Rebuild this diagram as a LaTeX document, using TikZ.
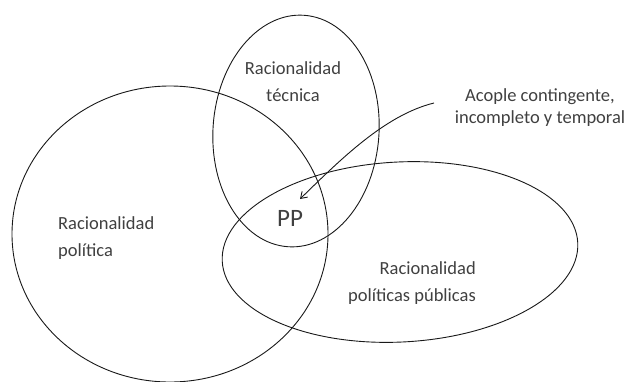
\documentclass[tikz,border=0pt]{standalone}
\usepackage{fontspec}
\setmainfont{Carlito}
\usetikzlibrary{arrows.meta}
\begin{document}
\begin{tikzpicture}[x=1pt,y=-1pt,
  setline/.style={draw=black!90, line width=0.9pt},
  lbl/.style={text=black!75, font=\fontsize{18.5}{27}\selectfont, inner sep=0pt},
  arr/.style={draw=black!90, line width=0.9pt, -{Straight Barb[length=6pt,width=8pt]}}]
\useasboundingbox (0,0) rectangle (640,381);
% sets
\draw[setline] (170,234) ellipse [x radius=158, y radius=148];
\draw[setline, rotate around={-4:(296,131)}] (296,131) ellipse [x radius=83, y radius=116];
\draw[setline, rotate around={3:(400,252)}] (400,252) ellipse [x radius=178, y radius=90];
% labels
\node[lbl, align=center] (tec) at (293,82) {Racionalidad\\técnica};
\node[lbl, align=left, anchor=west] (pol) at (58,238) {Racionalidad\\política};
\node[lbl, align=right, anchor=east] (pub) at (476,283) {Racionalidad\\políticas públicas};
\node[lbl, font=\fontsize{25}{30}\selectfont] (pp) at (290,218) {PP};
\node[lbl, align=center, font=\fontsize{18.5}{22}\selectfont] (aco) at (540,108) {Acople contingente,\\incompleto y temporal};
% arrow
\coordinate (arrstart) at (434,103);
\coordinate (arrtip) at (300,199);
\draw[arr] (arrstart) .. controls (385,115) and (340,160) .. (arrtip);
\end{tikzpicture}
\end{document}
